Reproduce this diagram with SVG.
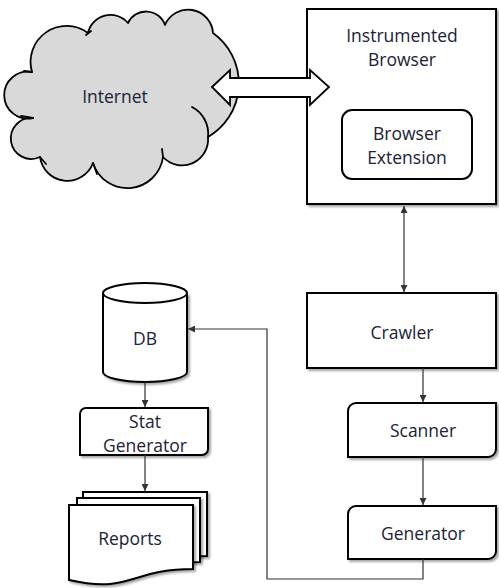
<svg xmlns="http://www.w3.org/2000/svg" width="499" height="588" viewBox="0 0 499 588">
  <style>
    .box { fill: #ffffff; stroke: #000000; stroke-width: 2; }
    .cloud { fill: #d9d9d9; stroke: #000000; stroke-width: 1.8; stroke-linejoin: round; }
    .inner { fill: none; stroke: #000000; stroke-width: 1.8; stroke-linecap: round; }
    .label { font-family: "Open Sans", "Liberation Sans", sans-serif; font-size: 17.5px; fill: #1b2236; text-anchor: middle; }
    .conn { fill: none; stroke: #333333; stroke-width: 1.2; }
    .shadow { filter: url(#drop); }
  </style>
  <defs>
    <filter id="drop" x="-10%" y="-10%" width="125%" height="125%">
      <feDropShadow dx="2" dy="2" stdDeviation="1.2" flood-color="#000000" flood-opacity="0.35"/>
    </filter>
    <marker id="arrow" viewBox="0 0 8 8" refX="8" refY="4" markerWidth="7" markerHeight="7" markerUnits="userSpaceOnUse" orient="auto-start-reverse">
      <path d="M0,0 L8,4 L0,8 Z" fill="#333333"/>
    </marker>
  </defs>

  <!-- Internet cloud -->
  <g id="internet">
    <path class="cloud" d="M32,72
      A36,36 0 0 1 88,33
      A23,23 0 0 1 128,23
      A20,20 0 0 1 165,25
      A25,25 0 0 1 213,33
      A62,62 0 0 1 208,137
      A26,26 0 0 1 163,157
      A36,36 0 0 1 93,163
      A27.5,27.5 0 0 1 40,157
      A20.5,20.5 0 1 1 33,118
      A23.5,23.5 0 1 1 32,72 Z"/>
    <path class="inner" d="M192,107 A30,30 0 0 1 208,137"/>
    <path class="inner" d="M163,157 L162,149"/>
    <path class="inner" d="M21,116 L33,118"/>
    <path class="inner" d="M24,71 L32,72"/>
    <path class="inner" d="M86,35 L91,31"/>
    <path class="inner" d="M93,163 L97,174"/>
    <path class="inner" d="M40,157 L46,164"/>
    <text class="label" x="115" y="103">Internet</text>
  </g>

  <!-- Instrumented browser with its extension -->
  <g id="instrumented-browser">
    <rect class="box shadow" x="307" y="9" width="189" height="195"/>
    <text class="label" x="402" y="42">Instrumented</text>
    <text class="label" x="402" y="66">Browser</text>
  </g>
  <g id="browser-extension">
    <rect class="box" x="342" y="110" width="130" height="69" rx="10" ry="10"/>
    <text class="label" x="407" y="140">Browser</text>
    <text class="label" x="407" y="164">Extension</text>
  </g>

  <!-- Block double arrow between Internet and browser -->
  <g id="internet-link">
    <polygon points="212,87 230,70 230,78 310,78 310,70 329,87 310,105 310,97 230,97 230,105" fill="#ffffff" stroke="#000000" stroke-width="1.8" stroke-linejoin="miter"/>
  </g>

  <g id="crawler">
    <rect class="box shadow" x="307" y="293" width="189" height="75"/>
    <text class="label" x="402" y="339">Crawler</text>
  </g>

  <g id="scanner">
    <path class="box shadow" d="M348,411 A8,8 0 0 1 356,403 H496 V449 A8,8 0 0 1 488,457 H348 Z"/>
    <text class="label" x="423" y="437">Scanner</text>
  </g>

  <g id="generator">
    <path class="box shadow" d="M348,514 A8,8 0 0 1 356,506 H496 V551 A8,8 0 0 1 488,559 H348 Z"/>
    <text class="label" x="423" y="540">Generator</text>
  </g>

  <g id="db">
    <path class="box shadow" d="M103,293 V372 A42,10 0 0 0 187,372 V293"/>
    <ellipse class="box" cx="145" cy="293" rx="42" ry="10"/>
    <text class="label" x="145" y="345">DB</text>
  </g>

  <g id="stat-generator">
    <path class="box shadow" d="M80,414 A6,6 0 0 1 86,408 H208 V449 A6,6 0 0 1 202,455 H80 Z"/>
    <text class="label" x="145" y="428">Stat</text>
    <text class="label" x="145" y="452">Generator</text>
  </g>

  <g id="reports">
    <path class="box shadow" d="M83,492 H207 V556 C145,556 145,581 83,567 Z"/>
    <path class="box shadow" d="M77,498 H200 V562 C138,562 138,587 77,573 Z"/>
    <path class="box shadow" d="M69,505 H193 V569 C131,569 131,594 69,580 Z"/>
    <text class="label" x="130" y="545">Reports</text>
  </g>

  <!-- Connectors -->
  <g id="connectors">
    <line class="conn" x1="404" y1="206" x2="404" y2="292" marker-start="url(#arrow)" marker-end="url(#arrow)"/>
    <line class="conn" x1="423" y1="368" x2="423" y2="402" marker-end="url(#arrow)"/>
    <line class="conn" x1="423" y1="457" x2="423" y2="505" marker-end="url(#arrow)"/>
    <polyline class="conn" points="423,559 423,579 267,579 267,329 188,329" marker-end="url(#arrow)"/>
    <line class="conn" x1="145" y1="382" x2="145" y2="407" marker-end="url(#arrow)"/>
    <line class="conn" x1="145" y1="455" x2="145" y2="491" marker-end="url(#arrow)"/>
  </g>
</svg>
